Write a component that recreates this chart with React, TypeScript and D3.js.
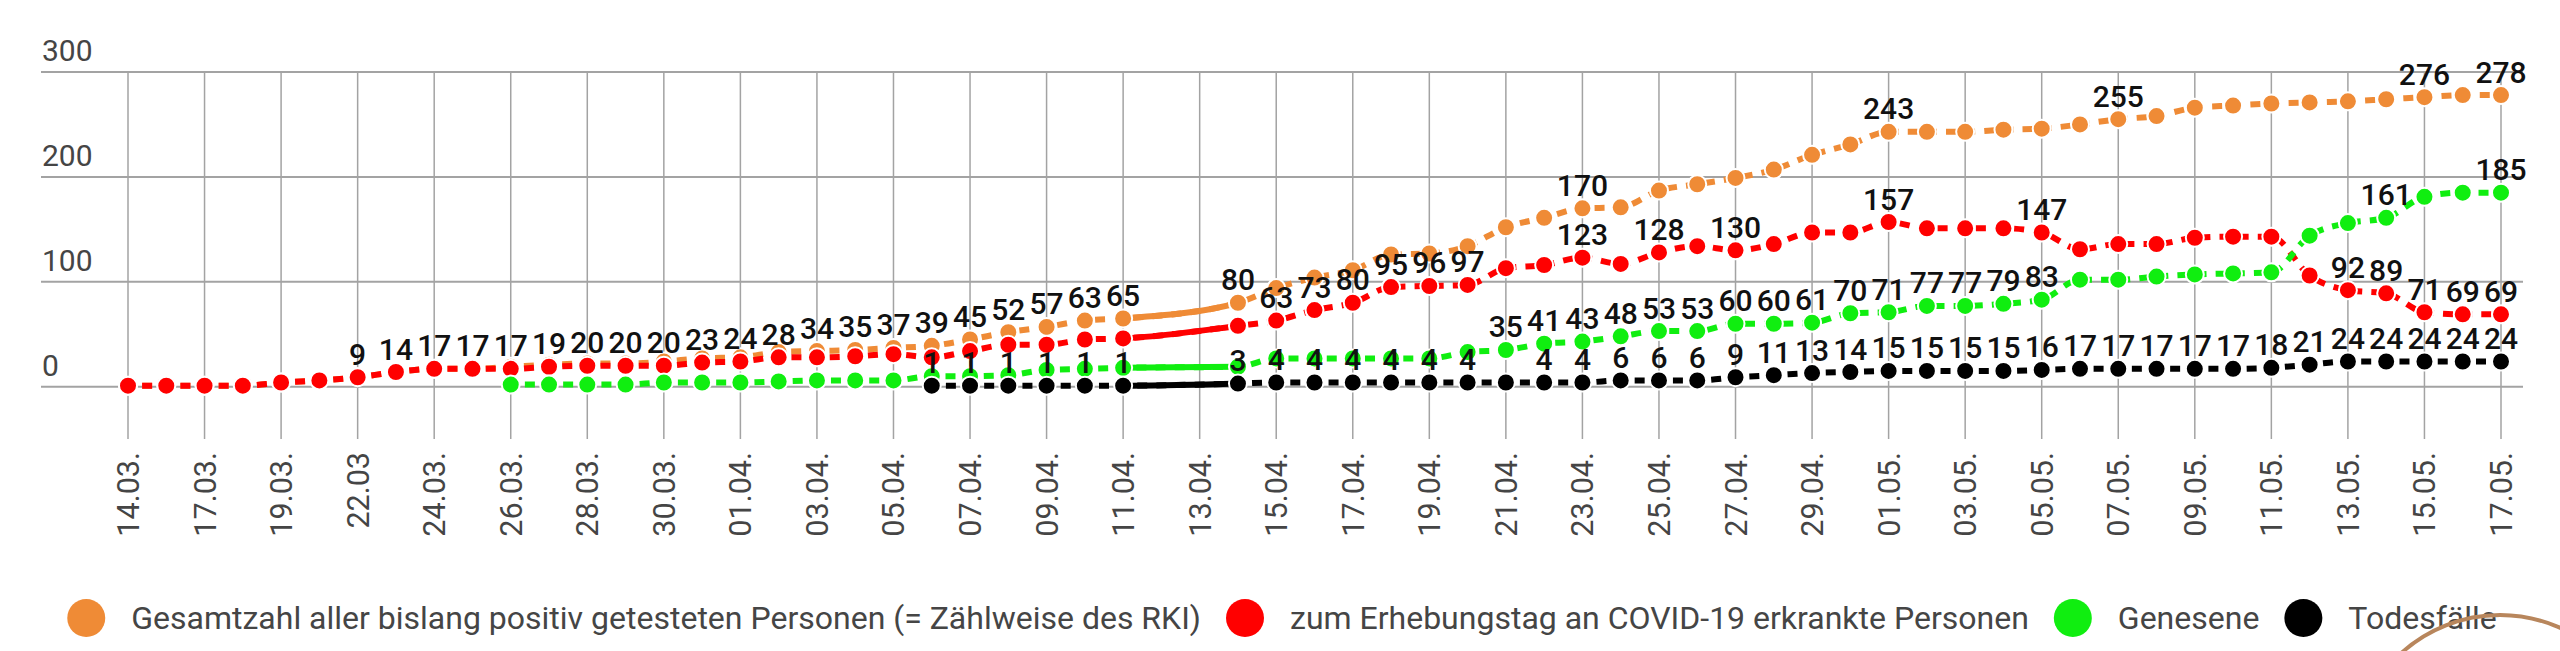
import * as d3 from 'd3';
import { useEffect, useRef } from 'react';

const WIDTH = 2560;
const HEIGHT = 651;

// categories (only every second one is labelled on the axis)
const dates = [
  '14.03.', '16.03.', '17.03.', '18.03.', '19.03.', '20.03.', '22.03', '23.03.', '24.03.', '25.03.',
  '26.03.', '27.03.', '28.03.', '29.03.', '30.03.', '31.03.', '01.04.', '02.04.', '03.04.', '04.04.',
  '05.04.', '06.04.', '07.04.', '08.04.', '09.04.', '10.04.', '11.04.', '12.04.', '13.04.', '14.04.',
  '15.04.', '16.04.', '17.04.', '18.04.', '19.04.', '20.04.', '21.04.', '22.04.', '23.04.', '24.04.',
  '25.04.', '26.04.', '27.04.', '28.04.', '29.04.', '30.04.', '01.05.', '02.05.', '03.05.', '04.05.',
  '05.05.', '06.05.', '07.05.', '08.05.', '09.05.', '10.05.', '11.05.', '12.05.', '13.05.', '14.05.',
  '15.05.', '16.05.', '17.05.',
];

const gesamt: (number | null)[] = [
  1, 1, 1, 1, 4, 6, 9, 14, 17, 17,
  19, 21, 22, 22, 24, 27, 28, 33, 34, 35,
  37, 39, 45, 52, 57, 63, 65, null, null, 80,
  94, 104, 111, 126, 127, 134, 152, 161, 170, 171,
  187, 193, 199, 207, 221, 231, 243, 243, 243, 245,
  246, 250, 255, 258, 266, 268, 270, 271, 272, 274,
  276, 278, 278,
];

const erkrankt: (number | null)[] = [
  1, 1, 1, 1, 4, 6, 9, 14, 17, 17,
  17, 19, 20, 20, 20, 23, 24, 28, 28, 29,
  31, 28, 34, 40, 40, 45, 46, null, null, 58,
  63, 73, 80, 95, 96, 97, 113, 116, 123, 117,
  128, 134, 130, 136, 147, 147, 157, 151, 151, 151,
  147, 131, 136, 136, 142, 143, 143, 106, 92, 89,
  71, 69, 69,
];

const genesen: (number | null)[] = [
  null, null, null, null, null, null, null, null, null, null,
  2, 2, 2, 2, 4, 4, 4, 5, 6, 6,
  6, 10, 10, 11, 16, 17, 18, null, null, 19,
  27, 27, 27, 27, 27, 33, 35, 41, 43, 48,
  53, 53, 60, 60, 61, 70, 71, 77, 77, 79,
  83, 102, 102, 105, 107, 108, 109, 144, 156, 161,
  181, 185, 185,
];

const todesfaelle: (number | null)[] = [
  null, null, null, null, null, null, null, null, null, null,
  null, null, null, null, null, null, null, null, null, null,
  null, 1, 1, 1, 1, 1, 1, null, null, 3,
  4, 4, 4, 4, 4, 4, 4, 4, 4, 6,
  6, 6, 9, 11, 13, 14, 15, 15, 15, 15,
  16, 17, 17, 17, 17, 17, 18, 21, 24, 24,
  24, 24, 24,
];

// indices whose value label is shown (the others are hidden by overlap in the original)
const gesamtLabels = [18, 19, 20, 21, 22, 23, 24, 25, 26, 29, 38, 46, 52, 60, 62];
const erkranktLabels = [6, 7, 8, 9, 10, 11, 12, 13, 14, 15, 16, 17, 30, 31, 32, 33, 34, 35, 38, 40, 42, 46, 50, 58, 59, 60, 61, 62];
const genesenLabels = [36, 37, 38, 39, 40, 41, 42, 43, 44, 45, 46, 47, 48, 49, 50, 59, 62];
const todesfaelleLabels = [
  21, 22, 23, 24, 25, 26, 29, 30, 31, 32, 33, 34, 35,
  37, 38, 39, 40, 41, 42, 43, 44, 45, 46, 47, 48, 49, 50,
  51, 52, 53, 54, 55, 56, 57, 58, 59, 60, 61, 62,
];

const yTicks = [0, 100, 200, 300];

type Series = {
  key: string;
  name: string;
  color: string;
  values: (number | null)[];
  labels: number[];
};

const SERIES: Series[] = [
  { key: 'gesamt', name: 'Gesamtzahl aller bislang positiv getesteten Personen (= Zählweise des RKI)', color: '#ef8b36', values: gesamt, labels: gesamtLabels },
  { key: 'erkrankt', name: 'zum Erhebungstag an COVID-19 erkrankte Personen', color: '#ff0000', values: erkrankt, labels: erkranktLabels },
  { key: 'genesen', name: 'Genesene', color: '#10ee10', values: genesen, labels: genesenLabels },
  { key: 'tote', name: 'Todesfälle', color: '#000000', values: todesfaelle, labels: todesfaelleLabels },
];

const FONT = 'Roboto, "Noto Sans", sans-serif';
const GRID = '#a3a3a3';
const AXIS_TEXT = '#454545';

// runs of missing values between two known values -> drawn as a solid connector
function findGaps(values: (number | null)[]) {
  const gaps: [number, number][] = [];
  let last = -1;
  values.forEach((v, i) => {
    if (v == null) return;
    if (last >= 0 && i - last > 1) gaps.push([last, i]);
    last = i;
  });
  return gaps;
}

export default function App() {
  const svgRef = useRef<SVGSVGElement | null>(null);

  useEffect(() => {
    const svgElement = svgRef.current;
    if (!svgElement) return;
    const root = d3.select(svgElement);
    root.selectAll('*').remove();

    const xScale = d3.scalePoint<string>().domain(dates).range([128, 2501]);
    const yScale = d3.scaleLinear().domain([0, 300]).range([386.7, 72]);
    const xOf = (i: number) => xScale(dates[i]) ?? 0;

    root.append('rect').attr('width', WIDTH).attr('height', HEIGHT).attr('fill', '#fff');
    const defs = root.append('defs');

    // grid
    const grid = root.append('g').attr('class', 'grid');
    grid
      .selectAll('line.h')
      .data(yTicks)
      .join('line')
      .attr('class', 'h')
      .attr('x1', 41)
      .attr('x2', 2523)
      .attr('y1', (t) => yScale(t))
      .attr('y2', (t) => yScale(t))
      .attr('stroke', GRID)
      .attr('stroke-width', 2);

    const labelled = dates.map((_, i) => i).filter((i) => i % 2 === 0);
    grid
      .selectAll('line.v')
      .data(labelled)
      .join('line')
      .attr('class', 'v')
      .attr('x1', (i) => xOf(i))
      .attr('x2', (i) => xOf(i))
      .attr('y1', yScale(300))
      .attr('y2', 439)
      .attr('stroke', GRID)
      .attr('stroke-width', 1.5);

    // y labels sit above their grid line
    root
      .append('g')
      .selectAll('text')
      .data(yTicks)
      .join('text')
      .attr('x', 42)
      .attr('y', (t) => yScale(t) - 11)
      .attr('font-family', FONT)
      .attr('font-size', 30)
      .attr('fill', AXIS_TEXT)
      .text((t) => String(t));

    // x labels, rotated
    root
      .append('g')
      .selectAll('text')
      .data(labelled)
      .join('text')
      .attr('transform', (i) => `translate(${xOf(i)}, 452) rotate(-90)`)
      .attr('text-anchor', 'end')
      .attr('dy', '0.36em')
      .attr('font-family', FONT)
      .attr('font-size', 30.5)
      .attr('fill', AXIS_TEXT)
      .text((i) => dates[i]);

    const line = d3
      .line<[number, number]>()
      .x((d) => d[0])
      .y((d) => d[1])
      .curve(d3.curveMonotoneX);

    SERIES.forEach((series) => {
      const pts = series.values
        .map((v, i) => (v == null ? null : ([xOf(i), yScale(v)] as [number, number])))
        .filter((p): p is [number, number] => p !== null);
      const d = line(pts) ?? '';
      const g = root.append('g').attr('class', `series-${series.key}`);

      g.append('path')
        .attr('d', d)
        .attr('fill', 'none')
        .attr('stroke', series.color)
        .attr('stroke-width', 6)
        .attr('stroke-dasharray', '10 9.135')
        .attr('stroke-dashoffset', 5);

      const gaps = findGaps(series.values);
      if (gaps.length > 0) {
        const clipId = `gap-${series.key}`;
        defs
          .append('clipPath')
          .attr('id', clipId)
          .selectAll('rect')
          .data(gaps)
          .join('rect')
          .attr('x', (gap) => xOf(gap[0]))
          .attr('width', (gap) => xOf(gap[1]) - xOf(gap[0]))
          .attr('y', 0)
          .attr('height', HEIGHT);
        g.append('path')
          .attr('d', d)
          .attr('fill', 'none')
          .attr('stroke', series.color)
          .attr('stroke-width', 6)
          .attr('clip-path', `url(#${clipId})`);
      }

      g.selectAll('circle')
        .data(pts)
        .join('circle')
        .attr('cx', (p) => p[0])
        .attr('cy', (p) => p[1])
        .attr('r', 9)
        .attr('fill', series.color)
        .attr('stroke', '#fff')
        .attr('stroke-width', 2);
    });

    // value labels on top of everything
    SERIES.forEach((series) => {
      root
        .append('g')
        .selectAll('text')
        .data(series.labels.filter((i) => series.values[i] != null))
        .join('text')
        .attr('x', (i) => xOf(i))
        .attr('y', (i) => yScale(series.values[i] as number) - 12.5)
        .attr('text-anchor', 'middle')
        .attr('font-family', FONT)
        .attr('font-size', 30)
        .attr('font-weight', 500)
        .attr('fill', '#111')
        .text((i) => String(series.values[i]));
    });

    // legend, centred under the plot
    const legend = root.append('g').attr('class', 'legend');
    const LEG_Y = 618;
    const R = 19;
    const items = SERIES.map((series) => {
      const item = legend.append('g');
      item.append('circle').attr('r', R).attr('cy', LEG_Y).attr('fill', series.color);
      const text = item
        .append('text')
        .attr('y', LEG_Y + 11)
        .attr('font-family', FONT)
        .attr('font-size', 32)
        .attr('fill', AXIS_TEXT)
        .text(series.name);
      const w = (text.node() as SVGTextElement).getComputedTextLength();
      return { item, text, w };
    });
    const total = d3.sum(items, (it) => 2 * R + 26 + it.w) + 25 * (items.length - 1);
    let cursor = (41 + 2523) / 2 - total / 2;
    items.forEach((it) => {
      it.item.select('circle').attr('cx', cursor + R);
      it.text.attr('x', cursor + 2 * R + 26);
      cursor += 2 * R + 26 + it.w + 25;
    });

    // partly visible ring in the lower right corner of the original
    root
      .append('circle')
      .attr('cx', 2500)
      .attr('cy', 762)
      .attr('r', 147)
      .attr('fill', 'none')
      .attr('stroke', '#b8865c')
      .attr('stroke-width', 4);

    return () => {
      root.selectAll('*').remove();
    };
  }, []);

  return (
    <svg
      ref={svgRef}
      width={WIDTH}
      height={HEIGHT}
      style={{ position: 'absolute', left: 0, top: 0, display: 'block' }}
    />
  );
}
